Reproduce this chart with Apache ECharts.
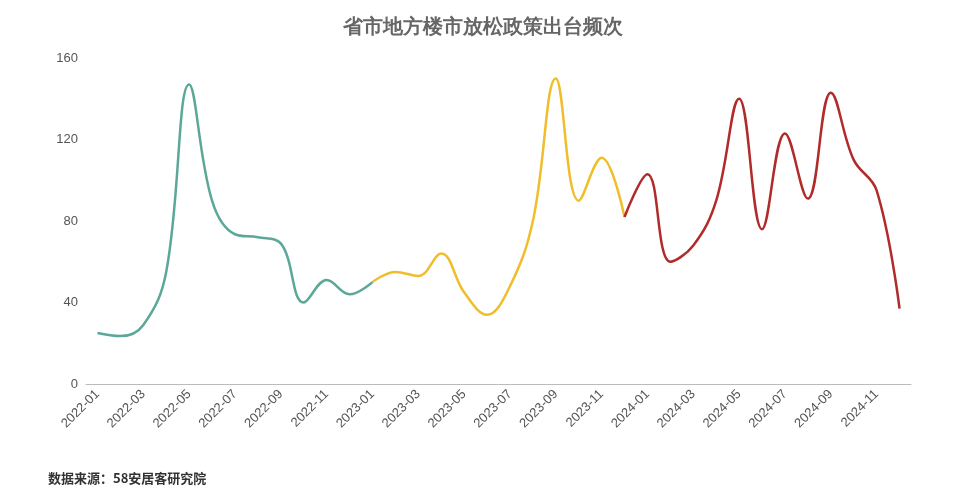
<!DOCTYPE html>
<html><head><meta charset="utf-8">
<script src="https://cdn.jsdelivr.net/npm/echarts@6/dist/echarts.min.js"></script>
<style>html,body{margin:0;padding:0;background:#fff}#c{width:965px;height:502px}</style>
</head><body><div id="c"></div>
<script>
const months = [];
for (const y of [2022, 2023, 2024]) for (let m = 1; m <= 12; m++) months.push(y + '-' + String(m).padStart(2, '0'));
const s2022 = [25, 23.5, 29, 55, 147, 90, 73.5, 72, 69, 40, 51, 44, 50];
const s2023 = [50, 55, 53, 64, 45, 34, 48, 80, 150, 90, 111, 82];
const s2024 = [82, 103, 60, 68, 90, 140, 76, 123, 91, 143, 110, 95, 37];
const yTicks = [0, 40, 80, 120, 160];

const d1 = months.map((_, i) => i < s2022.length ? s2022[i] : null);
const d2 = months.map((_, i) => i >= 12 && i < 12 + s2023.length ? s2023[i - 12] : null);
const d3 = months.map((_, i) => i >= 23 ? s2024[i - 23] : null);
const mk = (d, c) => ({type: 'line', data: d, smooth: 0.4, showSymbol: false, lineStyle: {color: c, width: 2.5}, itemStyle: {color: c}});
const chart = echarts.init(document.getElementById('c'));
chart.setOption({
  animation: false,
  title: {text: '省市地方楼市放松政策出台频次', left: 'center', top: 12, textStyle: {color: '#666', fontSize: 20, fontWeight: 'bold'}},
  grid: {left: 86, right: 54, top: 58, bottom: 118},
  xAxis: {type: 'category', data: months, boundaryGap: true,
    axisLine: {lineStyle: {color: '#bbb'}}, axisTick: {show: false},
    axisLabel: {interval: 1, rotate: 45, color: '#555', fontSize: 13}},
  yAxis: {type: 'value', min: yTicks[0], max: yTicks[yTicks.length - 1], interval: 40,
    axisLine: {show: false}, axisTick: {show: false}, splitLine: {show: false},
    axisLabel: {color: '#555', fontSize: 13}},
  series: [mk(d1, '#5ba898'), mk(d2, '#f0bd2b'), mk(d3, '#b22b2b')],
  graphic: [{type: 'text', left: 48, top: 472, style: {text: '数据来源：58安居客研究院', fill: '#333', font: 'bold 13px "Noto Sans CJK SC"'}}]
});
</script></body></html>
